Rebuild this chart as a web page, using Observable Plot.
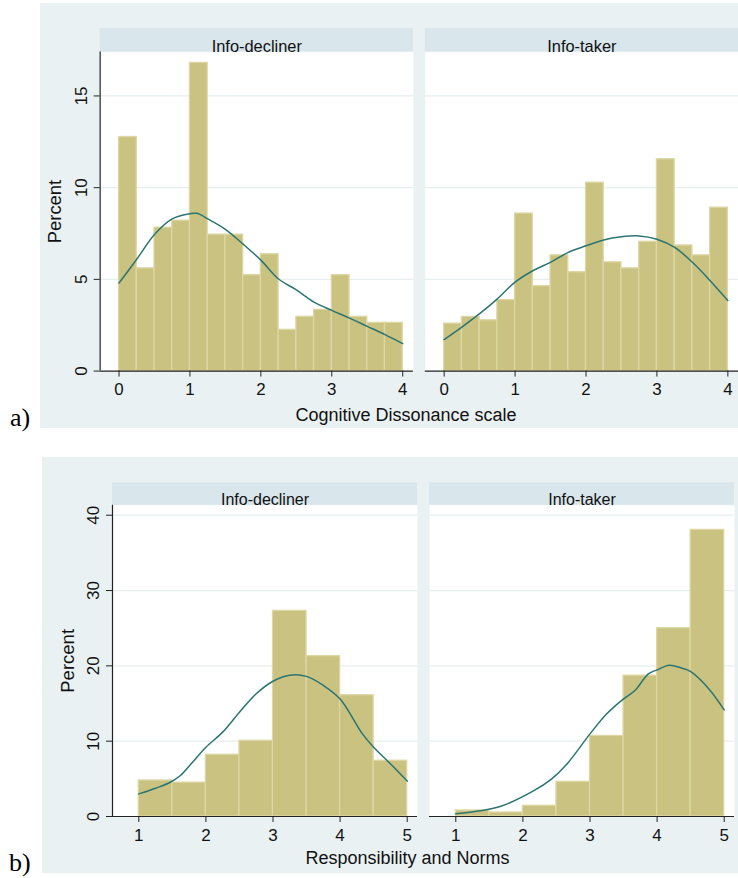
<!DOCTYPE html>
<html><head><meta charset="utf-8">
<script src="https://cdn.jsdelivr.net/npm/d3@7"></script>
<script src="https://cdn.jsdelivr.net/npm/@observablehq/plot@0.6"></script>
<style>
html,body{margin:0;padding:0;background:#fff;overflow:hidden;}
#root{position:relative;width:738px;height:878px;overflow:hidden;background:#fff;font-family:"Liberation Sans",Arial,sans-serif;}
.bg{position:absolute;background:#e9f1f3;}
.wrap{position:absolute;}
.title{position:absolute;font-size:18px;line-height:18px;white-space:nowrap;color:#111;transform:translateX(-50%);}
.tag{position:absolute;font-family:"Liberation Serif","Times New Roman",serif;font-size:26px;line-height:26px;color:#000;}
</style></head>
<body><div id="root">
<div class="bg" style="left:40px;top:3px;width:698px;height:425px"></div>
<div class="bg" style="left:42px;top:457px;width:696px;height:416px"></div>
<div id="pa" class="wrap" style="left:40px;top:3px"></div>
<div id="pb" class="wrap" style="left:42px;top:457px"></div>
<div class="title" style="left:406px;top:406px">Cognitive Dissonance scale</div>
<div class="title" style="left:407.5px;top:849px">Responsibility and Norms</div>
<div class="tag" style="left:10px;top:405px">a)</div>
<div class="tag" style="left:9px;top:850px">b)</div>
</div>
<script>
// ---------- data ----------
const groups = ["Info-decliner", "Info-taker"];

// (a) Cognitive Dissonance scale histogram (bin width 0.25)
const cdBinStarts = [0, 0.25, 0.5, 0.75, 1, 1.25, 1.5, 1.75, 2, 2.25, 2.5, 2.75, 3, 3.25, 3.5, 3.75];
const cdBinWidth = 0.25;
const cdDecliner = [12.76, 5.6, 7.82, 8.2, 16.8, 7.44, 7.44, 5.23, 6.37, 2.25, 2.96, 3.34, 5.23, 2.96, 2.63, 2.63];
const cdTaker = [2.59, 2.95, 2.77, 3.87, 8.59, 4.63, 6.31, 5.39, 10.27, 5.93, 5.6, 7.05, 11.55, 6.85, 6.31, 8.91];
// density curves
const cdDeclinerCurveX = [0, 0.25, 0.5, 0.75, 1, 1.1, 1.25, 1.5, 1.75, 2, 2.25, 2.5, 2.75, 3, 3.25, 3.5, 3.75, 4];
const cdDeclinerCurveY = [4.8, 6.1, 7.45, 8.3, 8.58, 8.6, 8.3, 7.73, 6.92, 6.05, 5.02, 4.43, 3.76, 3.31, 2.89, 2.44, 1.99, 1.5];
const cdTakerCurveX = [0, 0.25, 0.5, 0.75, 1, 1.25, 1.5, 1.75, 2, 2.25, 2.5, 2.75, 3, 3.25, 3.5, 3.75, 4];
const cdTakerCurveY = [1.72, 2.4, 3.13, 3.94, 4.85, 5.47, 5.93, 6.47, 6.83, 7.15, 7.32, 7.37, 7.19, 6.74, 5.93, 4.93, 3.85];
const cdXTicks = [0, 1, 2, 3, 4];
const cdYTicks = [0, 5, 10, 15];

// (b) Responsibility and Norms histogram (bin width 0.5)
const rnBinStarts = [1, 1.5, 2, 2.5, 3, 3.5, 4, 4.5];
const rnBinWidth = 0.5;
const rnDecliner = [4.78, 4.5, 8.2, 10.05, 27.3, 21.3, 16.1, 7.4];
const rnTaker = [0.8, 0.53, 1.42, 4.6, 10.7, 18.7, 25.0, 38.05];
const rnDeclinerCurveX = [1, 1.25, 1.47, 1.62, 1.8, 2, 2.25, 2.5, 2.75, 3, 3.25, 3.5, 3.75, 4, 4.33, 4.5, 4.75, 5];
const rnDeclinerCurveY = [3.0, 3.76, 4.55, 5.44, 7.2, 9.2, 11.2, 13.85, 16.3, 17.96, 18.76, 18.6, 17.4, 15.6, 11.0, 9.2, 7.0, 4.7];
const rnTakerCurveX = [1, 1.66, 2.15, 2.43, 2.65, 3, 3.25, 3.5, 3.67, 3.87, 4, 4.18, 4.37, 4.49, 4.75, 5];
const rnTakerCurveY = [0.35, 1.33, 3.36, 5.0, 6.9, 10.97, 13.63, 15.62, 16.73, 18.94, 19.47, 20.09, 19.69, 19.29, 17.17, 14.16];
const rnXTicks = [1, 2, 3, 4, 5];
const rnYTicks = [0, 10, 20, 30, 40];

// ---------- styling ----------
const FONT = '"Liberation Sans", Arial, sans-serif';
const BAR = "#cac281";
const BAR_EDGE = "#ddd7a4";
const LINE = "#2b7571";
const STRIP = "#d9e6eb";
const GRID = "#e6eef0";
const AXIS = "#222";

function barsOf(starts, width, series) {
  return groups.flatMap((g, gi) => starts.map((x, i) => ({group: g, x1: x, x2: x + width, y: series[gi][i]})));
}
function curveOf(xs, ys) {
  return groups.flatMap((g, gi) => xs[gi].map((x, i) => ({group: g, x, y: ys[gi][i]})));
}

function panel(o) {
  const innerH = o.height - o.marginTop - o.marginBottom;
  const strip = o.stripPx * (o.yDomain[1] - o.yDomain[0]) / innerH;
  return Plot.plot({
    width: o.width, height: o.height,
    marginLeft: o.marginLeft, marginRight: o.marginRight, marginTop: o.marginTop, marginBottom: o.marginBottom,
    style: {background: "transparent", fontFamily: FONT, fontSize: "16.5px", color: "#111", overflow: "visible"},
    fx: {domain: groups, paddingInner: o.padInner, paddingOuter: 0, axis: null, label: null},
    x: {domain: o.xDomain, axis: null},
    y: {domain: o.yDomain, axis: null},
    marks: [
      Plot.frame({fill: "#fff", stroke: "none"}),
      Plot.rect(groups, {fx: d => d, x1: () => o.xDomain[0], x2: () => o.xDomain[1], y1: () => o.yDomain[1], y2: () => o.yDomain[1] + strip, fill: STRIP}),
      Plot.text(groups, {fx: d => d, text: d => d, frameAnchor: "top", dy: -o.stripPx / 2, fontSize: o.stripFont, fill: "#111"}),
      Plot.gridY(o.yTicks.filter(t => t > 0), {stroke: GRID, strokeOpacity: 1, strokeWidth: 1.3}),
      Plot.rect(o.bars, {fx: "group", x1: "x1", x2: "x2", y1: () => 0, y2: "y", fill: BAR, stroke: BAR_EDGE, strokeWidth: 1.3}),
      Plot.line(o.curve, {fx: "group", x: "x", y: "y", stroke: LINE, strokeWidth: 1.5, curve: "catmull-rom"}),
      Plot.ruleY([0], {stroke: AXIS, strokeWidth: 1.2}),
      Plot.ruleX([{group: groups[0]}], {fx: "group", x: () => o.xDomain[0], stroke: AXIS, strokeWidth: 1.2}),
      Plot.axisY({ticks: o.yTicks, tickFormat: d => String(d), facetAnchor: "left", tickRotate: -90, tickSize: 6, tickPadding: 7.2, label: null, stroke: AXIS, fill: "#111", fontSize: 17}),
      Plot.axisY({ticks: [], facetAnchor: "left", tickSize: 0, label: "Percent", labelAnchor: "center", labelArrow: "none", labelOffset: o.labelOffset, fontSize: 18.5, fill: "#111"}),
      Plot.axisX({ticks: o.xTicks, tickFormat: d => String(d), tickSize: 6, tickPadding: 6.3, label: null, stroke: AXIS, fill: "#111", fontSize: 17})
    ]
  });
}

document.getElementById("pa").appendChild(panel({
  width: 702, height: 425, marginLeft: 60, marginRight: 0, marginTop: 48.7, marginBottom: 55.3,
  padInner: 12 / 327, xDomain: [-0.266, 4.15], yDomain: [0, 17.4],
  xTicks: cdXTicks, yTicks: cdYTicks, stripPx: 23.4, stripFont: 16.5, labelOffset: 52.7,
  bars: barsOf(cdBinStarts, cdBinWidth, [cdDecliner, cdTaker]),
  curve: curveOf([cdDeclinerCurveX, cdTakerCurveX], [cdDeclinerCurveY, cdTakerCurveY])
}));

document.getElementById("pb").appendChild(panel({
  width: 696, height: 416, marginLeft: 70, marginRight: 4, marginTop: 47.7, marginBottom: 57,
  padInner: 12 / 317, xDomain: [0.608, 5.1535], yDomain: [0, 41.33],
  xTicks: rnXTicks, yTicks: rnYTicks, stripPx: 22.4, stripFont: 16, labelOffset: 51.3,
  bars: barsOf(rnBinStarts, rnBinWidth, [rnDecliner, rnTaker]),
  curve: curveOf([rnDeclinerCurveX, rnTakerCurveX], [rnDeclinerCurveY, rnTakerCurveY])
}));
</script>
</body></html>
